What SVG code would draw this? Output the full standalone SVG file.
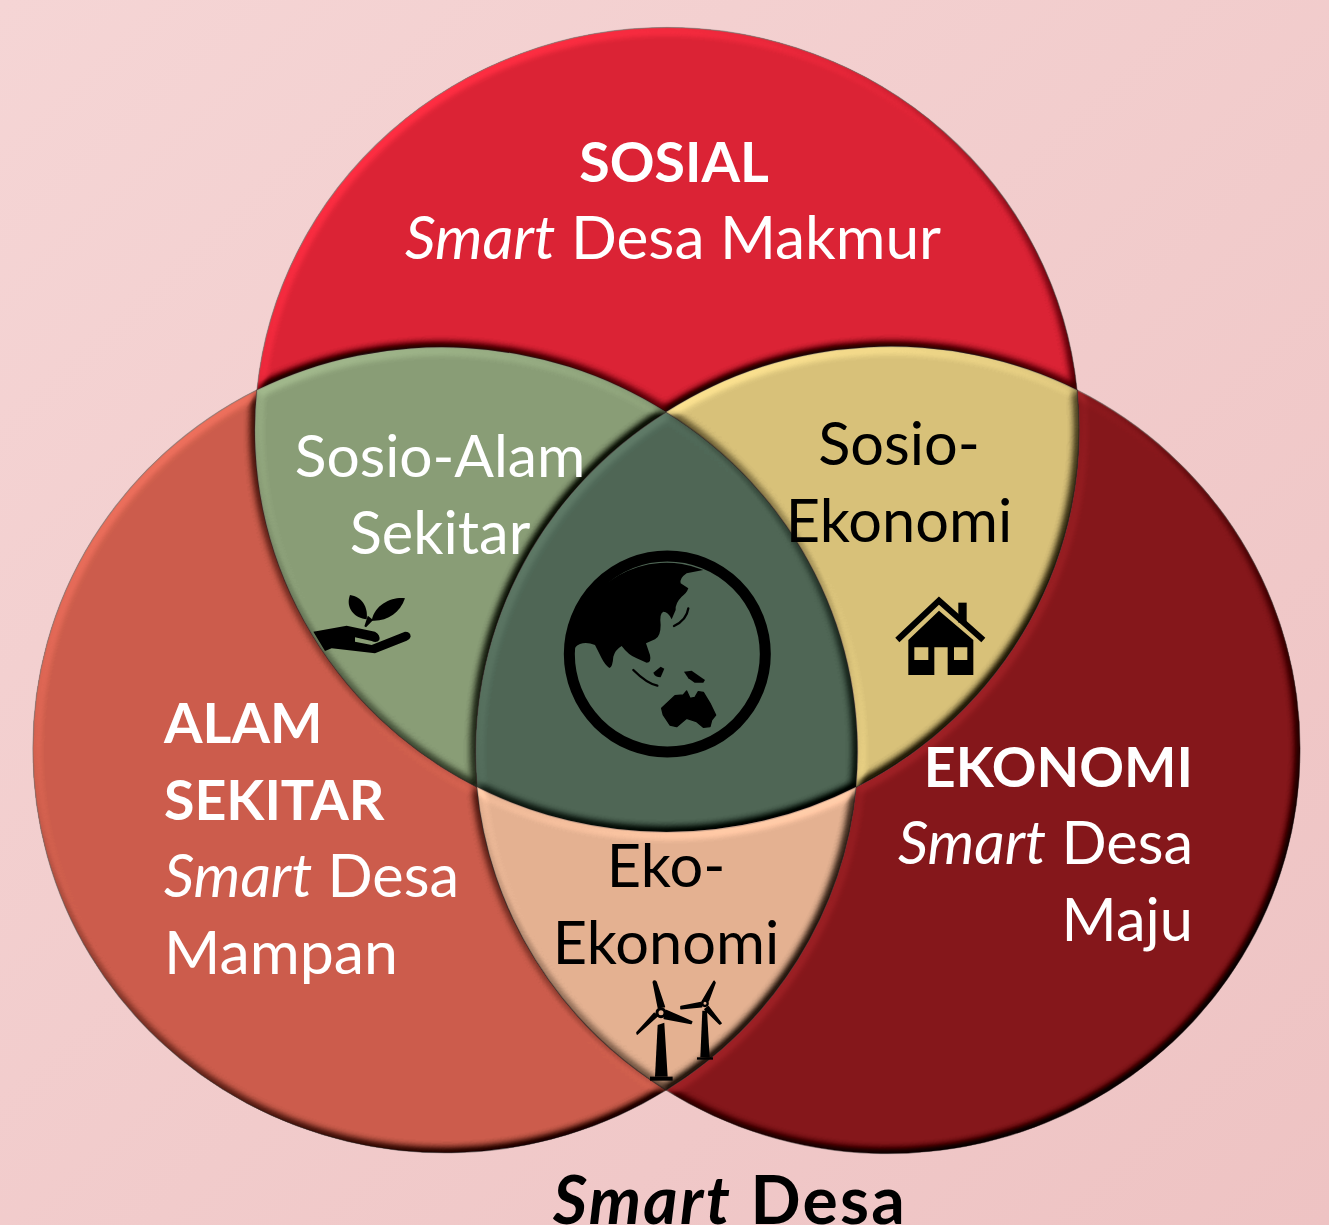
<svg xmlns="http://www.w3.org/2000/svg" width="1329" height="1225" viewBox="0 0 1329 1225">
<defs>
<linearGradient id="bg" x1="0" y1="0" x2="1" y2="1"><stop offset="0" stop-color="#F5D5D5"/><stop offset="1" stop-color="#EEC3C3"/></linearGradient>
<filter id="bevel" x="-5%" y="-5%" width="110%" height="110%" color-interpolation-filters="sRGB">
<feGaussianBlur in="SourceAlpha" stdDeviation="5" result="b"/>
<feDiffuseLighting in="b" surfaceScale="7" diffuseConstant="0.707" lighting-color="#fff" result="l0"><feDistantLight azimuth="235" elevation="45"/></feDiffuseLighting>
<feComponentTransfer in="l0" result="l"><feFuncR type="table" tableValues="0.16 0.5 0.66"/><feFuncG type="table" tableValues="0.16 0.5 0.66"/><feFuncB type="table" tableValues="0.16 0.5 0.66"/></feComponentTransfer>
<feComposite in="l" in2="SourceGraphic" operator="arithmetic" k1="2" k2="0.35" k3="0" k4="-0.175" result="c"/>
<feComposite in="c" in2="SourceAlpha" operator="in"/>
</filter>
</defs>
<style>
.r{filter:url(#bevel);stroke:#7b6a60;stroke-opacity:.4;stroke-width:1.5}
text{font-family:Lato,"Liberation Sans",sans-serif;font-size:59.5px}
.w{fill:#fff}.k{fill:#000}.b{font-weight:700;font-size:55.5px}.i{font-style:italic}.m{text-anchor:middle}.e{text-anchor:end}
</style>
<rect width="1329" height="1225" fill="url(#bg)"/>
<g id="node-alam">
<path class="r" fill="#CD5D4C" d="M257,390A412,402 0 0 0 33,751A412,402 0 0 0 666,1090A412,403 0 0 1 477,787A412,402 0 0 1 257,390Z"/>
<text class="w b" x="164" y="743">ALAM</text>
<text class="w b" x="164" y="820">SEKITAR</text>
<text class="w" x="164" y="897"><tspan class="i">Smart</tspan> Desa</text>
<text class="w" style="font-size:60.8px" x="164" y="974">Mampan</text>
</g>
<g id="node-ekonomi">
<path class="r" fill="#86171B" d="M1077,390A412,403 0 0 1 1300,752A412,403 0 0 1 666,1090A412,402 0 0 0 856,787A412,402 0 0 0 1077,390Z"/>
<text class="w b e" x="1193" y="787">EKONOMI</text>
<text class="w e" x="1193" y="864"><tspan class="i">Smart</tspan> Desa</text>
<text class="w e" x="1193" y="941">Maju</text>
</g>
<g id="node-sosial">
<path class="r" fill="#DC2335" d="M257,390A412,402 0 0 1 1077,390A412,403 0 0 0 666,412A412,402 0 0 0 257,390Z"/>
<text class="w b m" x="674" y="182">SOSIAL</text>
<text class="w m" style="font-size:60.4px" x="673" y="259"><tspan class="i">Smart</tspan> Desa Makmur</text>
</g>
<g id="node-pusat">
<path class="r" fill="#4F6756" d="M666,412A412,402 0 0 1 856,787A412,402 0 0 1 477,787A412,403 0 0 1 666,412Z"/>
<g transform="translate(540,530) scale(.3333)">
<circle cx="382" cy="372" r="294" fill="none" stroke="#000" stroke-width="33"/>
<path d="M490,120L440,130Q418,145 422,160L445,175Q440,190 425,200Q405,220 407,240L395,268Q385,245 370,245Q358,250 362,285Q362,320 345,328L318,340L330,375Q335,398 320,398L290,385Q265,375 245,348Q225,360 220,380Q218,412 208,414Q195,405 185,385L165,345Q140,335 120,342Q100,350 105,365L90,350A292,292 0 0 1 490,120Z"/>
<path d="M280,420Q320,460 352,467" fill="none" stroke="#000" stroke-width="7" stroke-linecap="round"/>
<path d="M402,288Q440,270 445,235" fill="none" stroke="#000" stroke-width="7" stroke-linecap="round"/>
<path d="M340,428L362,410L373,416L362,442Q345,442 340,428Z"/>
<path d="M432,425L455,422L495,450L490,458L464,458L445,445Z"/>
<path d="M365,535L405,497L430,495L440,483L450,505L465,502L475,485L490,487L510,520L527,555L515,570L510,590L490,592L470,575L440,565L410,590L390,585L370,555Z" stroke="#000" stroke-width="4" stroke-linejoin="round"/>
</g>
</g>
<g id="node-sosio-alam">
<path class="r" fill="#8A9E77" d="M257,390A412,402 0 0 1 666,412A412,403 0 0 0 477,787A412,402 0 0 1 257,390Z"/>
<text class="w m" style="font-size:58.7px" x="440" y="477">Sosio-Alam</text>
<text class="w m" x="440" y="554">Sekitar</text>
<g transform="translate(300,580) scale(.3333)">
<path d="M40,155L140,137L225,155Q242,165 238,180Q230,190 215,183L165,172L165,185L215,195L315,155Q332,155 332,170Q330,178 320,182L225,220L95,205L75,213Z"/>
<path d="M150,45C185,50 205,80 200,118C165,115 135,85 150,45Z"/>
<path d="M315,55C280,50 225,70 215,122C260,125 300,100 315,55Z"/>
<path d="M205,112L196,140L215,120Z" stroke="#000" stroke-width="6"/>
</g>
</g>
<g id="node-sosio-ekonomi">
<path class="r" fill="#D9C27A" d="M666,412A412,403 0 0 1 1077,390A412,402 0 0 1 856,787A412,402 0 0 0 666,412Z"/>
<text class="k m" x="899" y="465">Sosio-</text>
<text class="k m" x="899" y="542">Ekonomi</text>
<g transform="translate(885,590) scale(.3333)">
<path d="M37,150L162,32L295,150" fill="none" stroke="#000" stroke-width="18"/>
<rect x="220" y="38" width="25" height="60"/>
<path fill-rule="evenodd" d="M70,255V150L162,62L265,150V255H188V172H148V255ZM88,172V210H130V172ZM207,172V210H247V172Z"/>
</g>
</g>
<g id="node-eko-ekonomi">
<path class="r" fill="#E5B292" d="M477,787A412,402 0 0 0 856,787A412,402 0 0 1 666,1090A412,403 0 0 1 477,787Z"/>
<text class="k m" x="666" y="887">Eko-</text>
<text class="k m" x="666" y="964">Ekonomi</text>
<g transform="translate(625,970) scale(.3333)" stroke-linejoin="round">
<g stroke="#000" stroke-width="5">
<path d="M100,112L85,36Q88,30 93,36L118,110Z"/>
<path d="M125,122L200,155L198,160L118,145Z"/>
<path d="M97,138L37,192L36,188L88,130Z"/>
<path d="M232,94L267,34L270,38L250,92Z"/>
<path d="M228,98L168,110L168,116L230,110Z"/>
<path d="M250,110L288,160L284,162L240,118Z"/>
</g>
<path d="M98,165L118,158L128,320H90Z"/>
<rect x="75" y="320" width="68" height="12"/>
<path d="M232,122L246,122L254,262H226Z"/>
<rect x="216" y="262" width="48" height="7"/>
<circle cx="108" cy="128" r="12" fill="#E5B292" stroke="#000" stroke-width="9"/>
<circle cx="240" cy="100" r="8" fill="#E5B292" stroke="#000" stroke-width="7"/>
</g>
</g>
<text id="title" class="k b" style="font-size:66px;letter-spacing:2.3px" x="553" y="1224"><tspan class="i">Smart</tspan> Desa</text>
</svg>
